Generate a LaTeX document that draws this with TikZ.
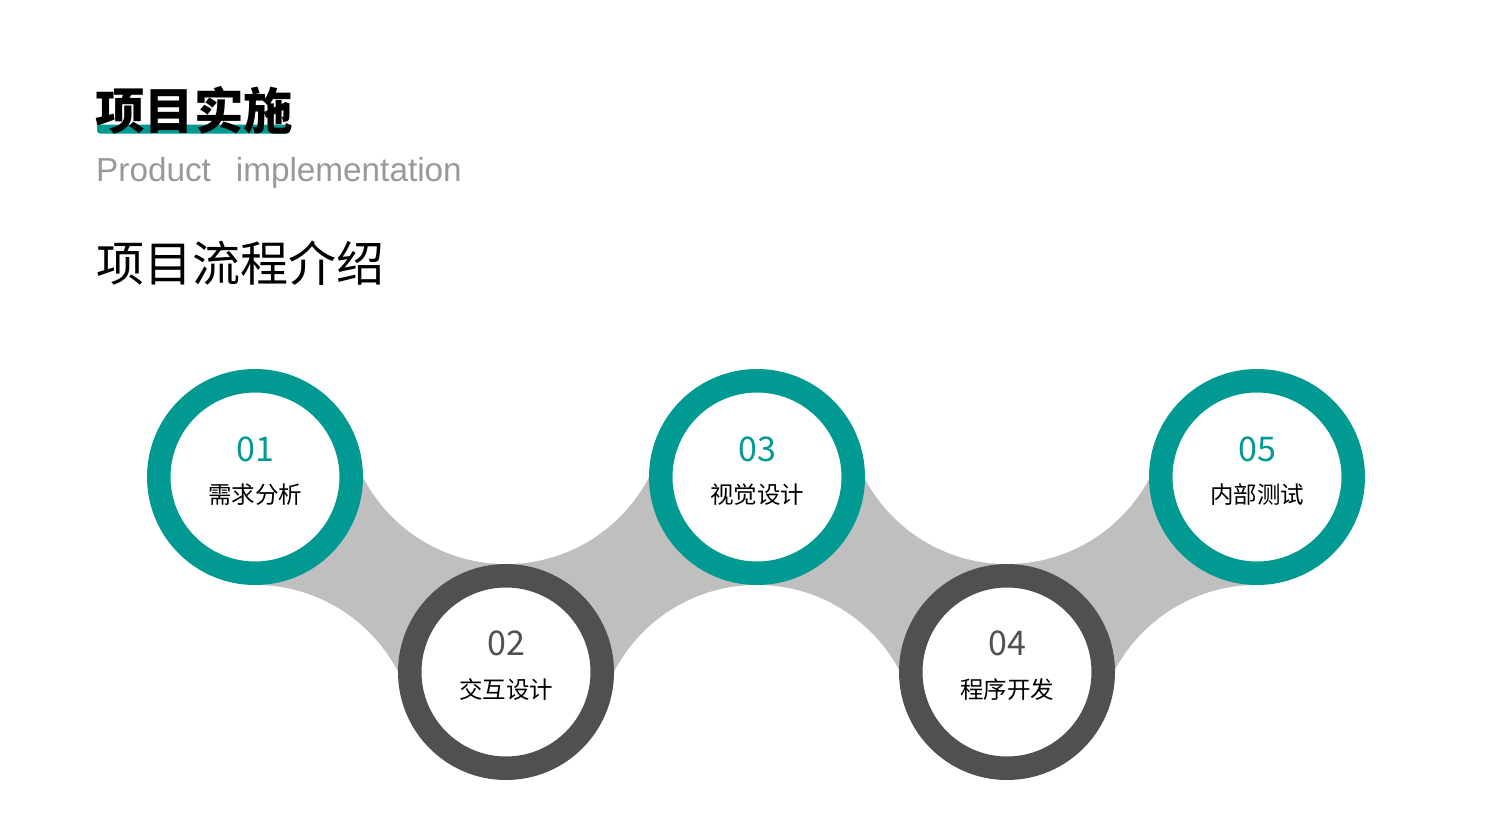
\documentclass[tikz,border=0pt]{standalone}
\usepackage{fontspec}
\setmainfont{Liberation Sans}
\newfontfamily\cjk{Noto Sans CJK SC}
\definecolor{teal1}{HTML}{009A93}
\definecolor{band}{HTML}{BFBFBF}
\definecolor{dark}{HTML}{505050}
\definecolor{subgray}{HTML}{999999}
\begin{document}
\begin{tikzpicture}[x=1pt,y=-1pt,
  ring/.style={circle, minimum size=192.5pt, inner sep=0pt, line width=23.5pt, fill=white},
  tealring/.style={ring, draw=teal1},
  darkring/.style={ring, draw=dark},
  num/.style={anchor=base, inner sep=0pt, font=\cjk\fontsize{34}{34}\selectfont},
  lab/.style={anchor=base, inner sep=0pt, font=\cjk\fontsize{23.5}{23.5}\selectfont, text=black},
  hole/.style={fill=white},
  bandfill/.style={fill=band}]
\useasboundingbox (0,0) rectangle (1500,820);
% centres
\coordinate (p1) at (255,477);
\coordinate (p2) at (506,672);
\coordinate (p3) at (757,477);
\coordinate (p4) at (1007,672);
\coordinate (p5) at (1257,477);
% white cut-out circles
\coordinate (u1) at (506,403);
\coordinate (u2) at (1007,403);
\coordinate (l1) at (255,746);
\coordinate (l2) at (757,746);
\coordinate (l3) at (1257,746);
% grey bands
\fill[bandfill] (p1) -- (u1) -- (p2) -- (l1) -- cycle;
\fill[bandfill] (p2) -- (u1) -- (p3) -- (l2) -- cycle;
\fill[bandfill] (p3) -- (u2) -- (p4) -- (l2) -- cycle;
\fill[bandfill] (p4) -- (u2) -- (p5) -- (l3) -- cycle;
\foreach \c in {u1,u2,l1,l2,l3}{\fill[hole] (\c) circle[radius=161pt];}
% rings
\node[tealring] (s1) at (p1) {};
\node[darkring] (s2) at (p2) {};
\node[tealring] (s3) at (p3) {};
\node[darkring] (s4) at (p4) {};
\node[tealring] (s5) at (p5) {};
% texts in rings
\node[num, text=teal1] (n1) at (255,461) {01};
\node[lab] (t1) at (255,503) {需求分析};
\node[num, text=dark] (n2) at (506,655) {02};
\node[lab] (t2) at (506,698) {交互设计};
\node[num, text=teal1] (n3) at (757,461) {03};
\node[lab] (t3) at (757,503) {视觉设计};
\node[num, text=dark] (n4) at (1007,655) {04};
\node[lab] (t4) at (1007,698) {程序开发};
\node[num, text=teal1] (n5) at (1257,461) {05};
\node[lab] (t5) at (1257,503) {内部测试};
% title block
\fill[teal1, rounded corners=3pt] (97,124.5) rectangle (290,133.5);
\node[anchor=base west, inner sep=0pt, font=\cjk\bfseries\fontsize{49.5}{49.5}\selectfont] (title) at (95,129) {项目实施};
\node[anchor=base west, inner sep=0pt, text=subgray, font=\fontsize{33.3}{33.3}\selectfont] (sub) at (96,181) {Product\hspace{25pt}implementation};
\node[anchor=base west, inner sep=0pt, font=\cjk\fontsize{48}{48}\selectfont] (head) at (96,281) {项目流程介绍};
\end{tikzpicture}
\end{document}
